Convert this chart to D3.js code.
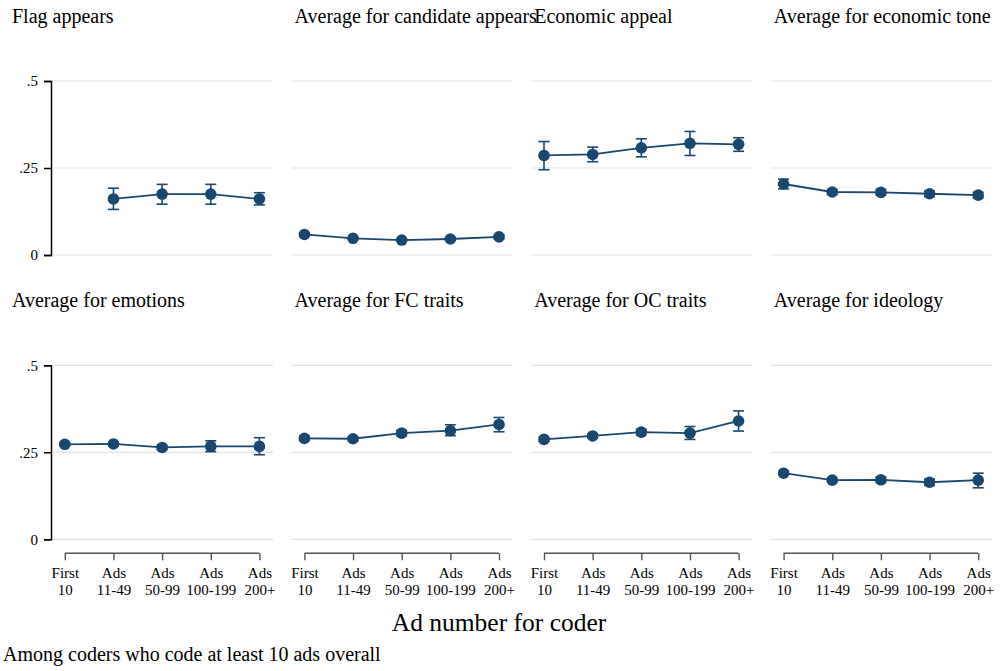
<!DOCTYPE html>
<html>
<head>
<meta charset="utf-8">
<script src="https://cdn.jsdelivr.net/npm/d3@7"></script>
<style>
  html, body { margin: 0; padding: 0; background: #fff; }
  svg { display: block; }
  text { font-family: "Liberation Serif", "DejaVu Serif", serif; fill: #000; }
</style>
</head>
<body>
<svg id="chart" width="1000" height="671"></svg>
<script>
// Ad-number groups (two-line tick labels)
const adGroups = [["First", "10"], ["Ads", "11-49"], ["Ads", "50-99"], ["Ads", "100-199"], ["Ads", "200+"]];

const panelTitles = [
  "Flag appears", "Average for candidate appears", "Economic appeal", "Average for economic tone",
  "Average for emotions", "Average for FC traits", "Average for OC traits", "Average for ideology"
];

const yTicks = [0, 0.25, 0.5];
const yTickLabels = ["0", ".25", ".5"];

// Point estimates per panel, one value per ad group (null = not estimated)
const meanValues = [
  [null, 0.161, 0.175, 0.175, 0.161],
  [0.059, 0.048, 0.043, 0.046, 0.052],
  [0.286, 0.289, 0.308, 0.321, 0.318],
  [0.204, 0.181, 0.180, 0.176, 0.172],
  [0.273, 0.274, 0.264, 0.267, 0.267],
  [0.290, 0.289, 0.305, 0.312, 0.330],
  [0.287, 0.297, 0.308, 0.305, 0.340],
  [0.190, 0.170, 0.171, 0.164, 0.170]
];

// Lower and upper confidence bounds
const lowerCI = [
  [null, 0.131, 0.146, 0.146, 0.144],
  [0.055, 0.045, 0.040, 0.042, 0.047],
  [0.245, 0.268, 0.282, 0.286, 0.298],
  [0.190, 0.174, 0.172, 0.168, 0.164],
  [0.268, 0.269, 0.258, 0.252, 0.243],
  [0.284, 0.283, 0.297, 0.298, 0.309],
  [0.281, 0.291, 0.300, 0.287, 0.311],
  [0.185, 0.164, 0.163, 0.155, 0.148]
];
const upperCI = [
  [null, 0.192, 0.203, 0.203, 0.179],
  [0.063, 0.051, 0.046, 0.050, 0.057],
  [0.326, 0.310, 0.334, 0.355, 0.337],
  [0.218, 0.188, 0.188, 0.184, 0.180],
  [0.278, 0.279, 0.270, 0.283, 0.292],
  [0.296, 0.295, 0.313, 0.329, 0.350],
  [0.293, 0.303, 0.316, 0.324, 0.369],
  [0.195, 0.176, 0.179, 0.173, 0.190]
];

const navy = "#1a476f";
const svg = d3.select("#chart");

// Panel geometry
const colStep = 239.6, rowStep = 284.3;
const panelLeft = 52, panelWidth = 221;
const ptInset = 12.8, ptSpan = 194.6;
const zeroY = 255, halfY = 81;

const idx = d3.range(1, adGroups.length + 1);

panelTitles.forEach((title, p) => {
  const col = p % 4, row = Math.floor(p / 4);
  const x0 = panelLeft + col * colStep;
  const dy = row * rowStep;

  const x = d3.scaleLinear().domain([1, 5]).range([x0 + ptInset, x0 + ptInset + ptSpan]);
  const y = d3.scaleLinear().domain([0, 0.5]).range([zeroY + dy, halfY + dy]);

  const g = svg.append("g");

  // gridlines
  g.selectAll("line.grid").data(yTicks).join("line")
    .attr("x1", x0).attr("x2", x0 + panelWidth)
    .attr("y1", d => y(d)).attr("y2", d => y(d))
    .attr("stroke", "#e3e3e3").attr("stroke-width", 1.2);

  // panel title
  g.append("text")
    .attr("x", col === 0 ? 12 : x0 + 3)
    .attr("y", 23 + dy)
    .attr("font-size", 20)
    .text(title);

  // y axis on the left column
  if (col === 0) {
    const yAxis = d3.axisLeft(y).tickValues(yTicks)
      .tickFormat((d, i) => yTickLabels[i]).tickSize(7).tickPadding(6);
    const ga = g.append("g").attr("transform", `translate(${x0 - 1},0)`).call(yAxis);
    ga.select(".domain").attr("stroke", "#000").attr("stroke-width", 1.5);
    ga.selectAll(".tick line").attr("stroke", "#000").attr("stroke-width", 1.5);
    ga.selectAll(".tick text").attr("font-size", 15).attr("font-family", "Liberation Serif, serif").attr("fill", "#000");
  }

  // x axis on the bottom row
  if (row === 1) {
    const xAxis = d3.axisBottom(x).tickValues(idx).tickSize(7).tickSizeOuter(0).tickFormat("");
    const gx = g.append("g").attr("transform", `translate(0,553.3)`).call(xAxis);
    gx.select(".domain").attr("stroke", "#555").attr("stroke-width", 1.6)
      .attr("d", `M${x(1)},0H${x(5)}`);
    gx.selectAll(".tick line").attr("stroke", "#555").attr("stroke-width", 1.4);
    gx.selectAll(".tick").each(function (d) {
      const t = d3.select(this).append("text")
        .attr("text-anchor", "middle").attr("font-size", 15)
        .attr("font-family", "Liberation Serif, serif").attr("fill", "#000");
      t.append("tspan").attr("x", 0).attr("y", 25).text(adGroups[d - 1][0]);
      t.append("tspan").attr("x", 0).attr("y", 42).text(adGroups[d - 1][1]);
    });
  }

  const pts = idx.map((k, i) => ({
    k, m: meanValues[p][i], lo: lowerCI[p][i], hi: upperCI[p][i]
  })).filter(d => d.m !== null);

  // error bars
  const eb = g.selectAll("g.eb").data(pts).join("g");
  eb.append("line")
    .attr("x1", d => x(d.k)).attr("x2", d => x(d.k))
    .attr("y1", d => y(d.lo)).attr("y2", d => y(d.hi))
    .attr("stroke", navy).attr("stroke-width", 1.6);
  ["lo", "hi"].forEach(key => {
    eb.append("line")
      .attr("x1", d => x(d.k) - 5.5).attr("x2", d => x(d.k) + 5.5)
      .attr("y1", d => y(d[key])).attr("y2", d => y(d[key]))
      .attr("stroke", navy).attr("stroke-width", 1.6);
  });

  // connecting line
  g.append("path").datum(pts)
    .attr("d", d3.line().x(d => x(d.k)).y(d => y(d.m)))
    .attr("fill", "none").attr("stroke", navy).attr("stroke-width", 1.8);

  // markers
  g.selectAll("circle").data(pts).join("circle")
    .attr("cx", d => x(d.k)).attr("cy", d => y(d.m)).attr("r", 5.8)
    .attr("fill", navy);
});

// shared axis title and note
svg.append("text").attr("x", 499).attr("y", 631).attr("text-anchor", "middle")
  .attr("font-size", 25.5).text("Ad number for coder");
svg.append("text").attr("x", 3).attr("y", 661)
  .attr("font-size", 20).text("Among coders who code at least 10 ads overall");
</script>
</body>
</html>
